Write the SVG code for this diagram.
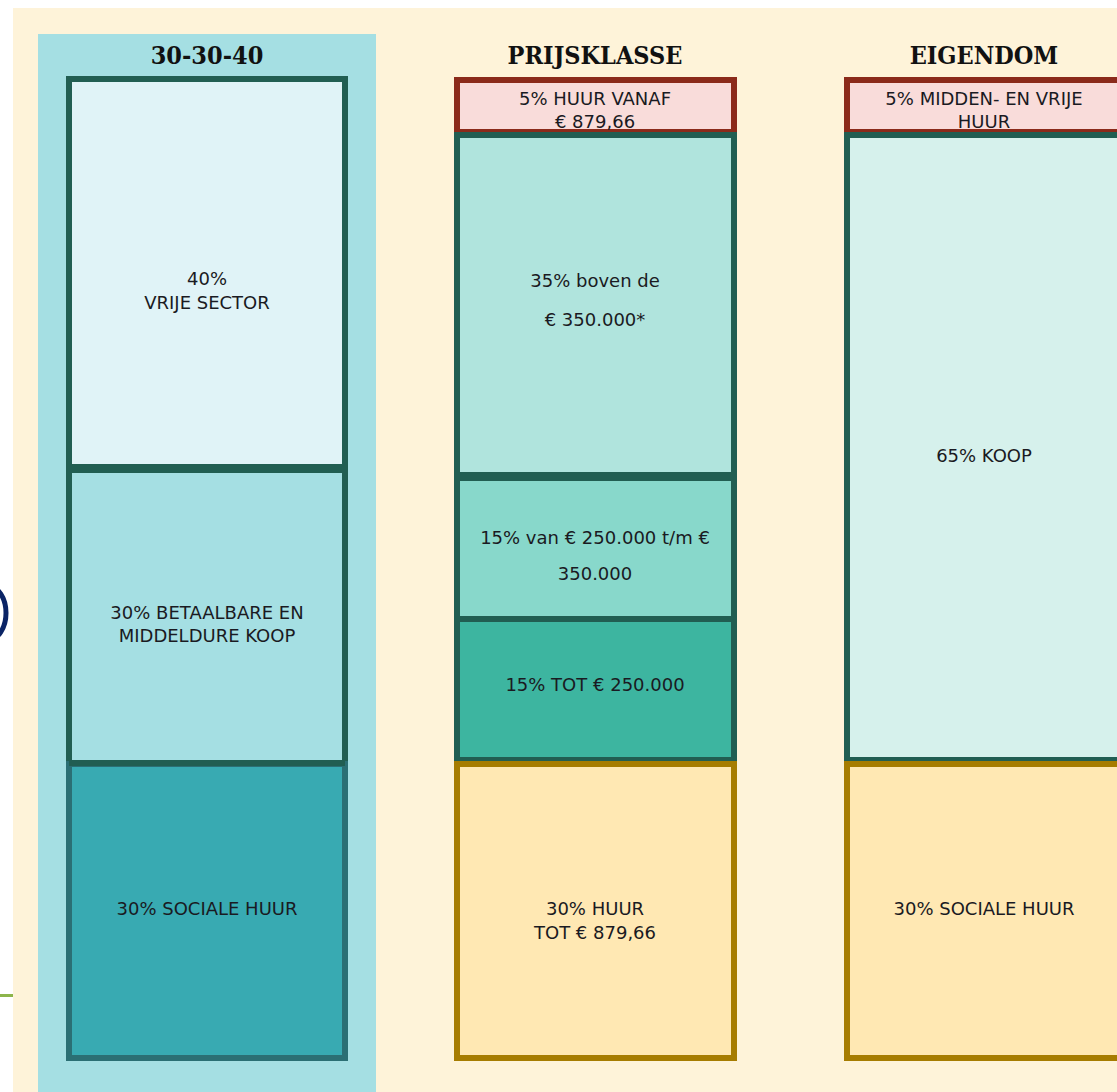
<svg xmlns="http://www.w3.org/2000/svg" width="1117" height="1092" viewBox="0 0 1117 1092">
<style>
.title{font-family:"DejaVu Serif Condensed","DejaVu Serif",serif;font-weight:bold;font-size:25px;fill:#111;text-anchor:middle}
.lbl{font-family:"DejaVu Sans",sans-serif;font-size:18px;fill:#1a1a22;text-anchor:middle}
.g{stroke:#215E52;stroke-width:6}
.y{stroke:#A67C00;stroke-width:6;fill:#FFE8B3}
.r{stroke:#8B2A1A;stroke-width:6;fill:#F9DCDA}
</style>
<rect x="0" y="0" width="1117" height="1092" fill="#ffffff"/>
<rect x="13" y="8" width="1104" height="1084" fill="#FEF3D9"/>
<rect x="38" y="34" width="338" height="1058" fill="#A5DFE3"/>
<ellipse cx="-12" cy="613" rx="18" ry="27" fill="none" stroke="#0B2465" stroke-width="5"/>
<rect x="0" y="994" width="13" height="3" fill="#8DB54B"/>

<g id="col1">
<text class="title" x="207" y="64">30-30-40</text>
<g id="c1-vrije"><rect class="g" x="69" y="79" width="276" height="388" fill="#E0F3F7"/>
<text class="lbl" x="207" y="285">40%</text><text class="lbl" x="207" y="309">VRIJE SECTOR</text></g>
<g id="c1-betaalbaar"><rect class="g" x="69" y="470" width="276" height="293" fill="#A5DFE3"/>
<text class="lbl" x="207" y="619">30% BETAALBARE EN</text><text class="lbl" x="207" y="642">MIDDELDURE KOOP</text></g>
<g id="c1-sociaal"><rect x="69" y="764" width="276" height="294" fill="#38AAB2" stroke="#2B6F74" stroke-width="6"/>
<rect x="69" y="761" width="276" height="5" fill="#215E52"/>
<text class="lbl" x="207" y="915">30% SOCIALE HUUR</text></g>
</g>

<g id="col2">
<text class="title" x="595" y="64">PRIJSKLASSE</text>
<g id="c2-huurvanaf"><rect class="r" x="457" y="80" width="277" height="52"/>
<text class="lbl" x="595" y="105">5% HUUR VANAF</text><text class="lbl" x="595" y="128">€ 879,66</text></g>
<g id="c2-boven"><rect class="g" x="457" y="135" width="277" height="340" fill="#B0E4DD"/>
<text class="lbl" x="595" y="287">35% boven de</text><text class="lbl" x="595" y="326">€ 350.000*</text></g>
<g id="c2-van"><rect class="g" x="457" y="478" width="277" height="141" fill="#88D8CB"/>
<text class="lbl" x="595" y="544">15% van € 250.000 t/m €</text><text class="lbl" x="595" y="580">350.000</text></g>
<g id="c2-tot"><rect class="g" x="457" y="619" width="277" height="141" fill="#3DB5A0"/>
<text class="lbl" x="595" y="691">15% TOT € 250.000</text></g>
<g id="c2-huur"><rect class="y" x="457" y="764" width="277" height="294"/>
<text class="lbl" x="595" y="915">30% HUUR</text><text class="lbl" x="595" y="939">TOT € 879,66</text></g>
</g>

<g id="col3">
<text class="title" x="984" y="64">EIGENDOM</text>
<g id="c3-midden"><rect class="r" x="847" y="80" width="277" height="52"/>
<text class="lbl" x="984" y="105">5% MIDDEN- EN VRIJE</text><text class="lbl" x="984" y="128">HUUR</text></g>
<g id="c3-koop"><rect class="g" x="847" y="135" width="277" height="625" fill="#D6F1EC"/>
<text class="lbl" x="984" y="462">65% KOOP</text></g>
<g id="c3-sociaal"><rect class="y" x="847" y="764" width="277" height="294"/>
<text class="lbl" x="984" y="915">30% SOCIALE HUUR</text></g>
</g>

<g id="connectors"></g>
</svg>
